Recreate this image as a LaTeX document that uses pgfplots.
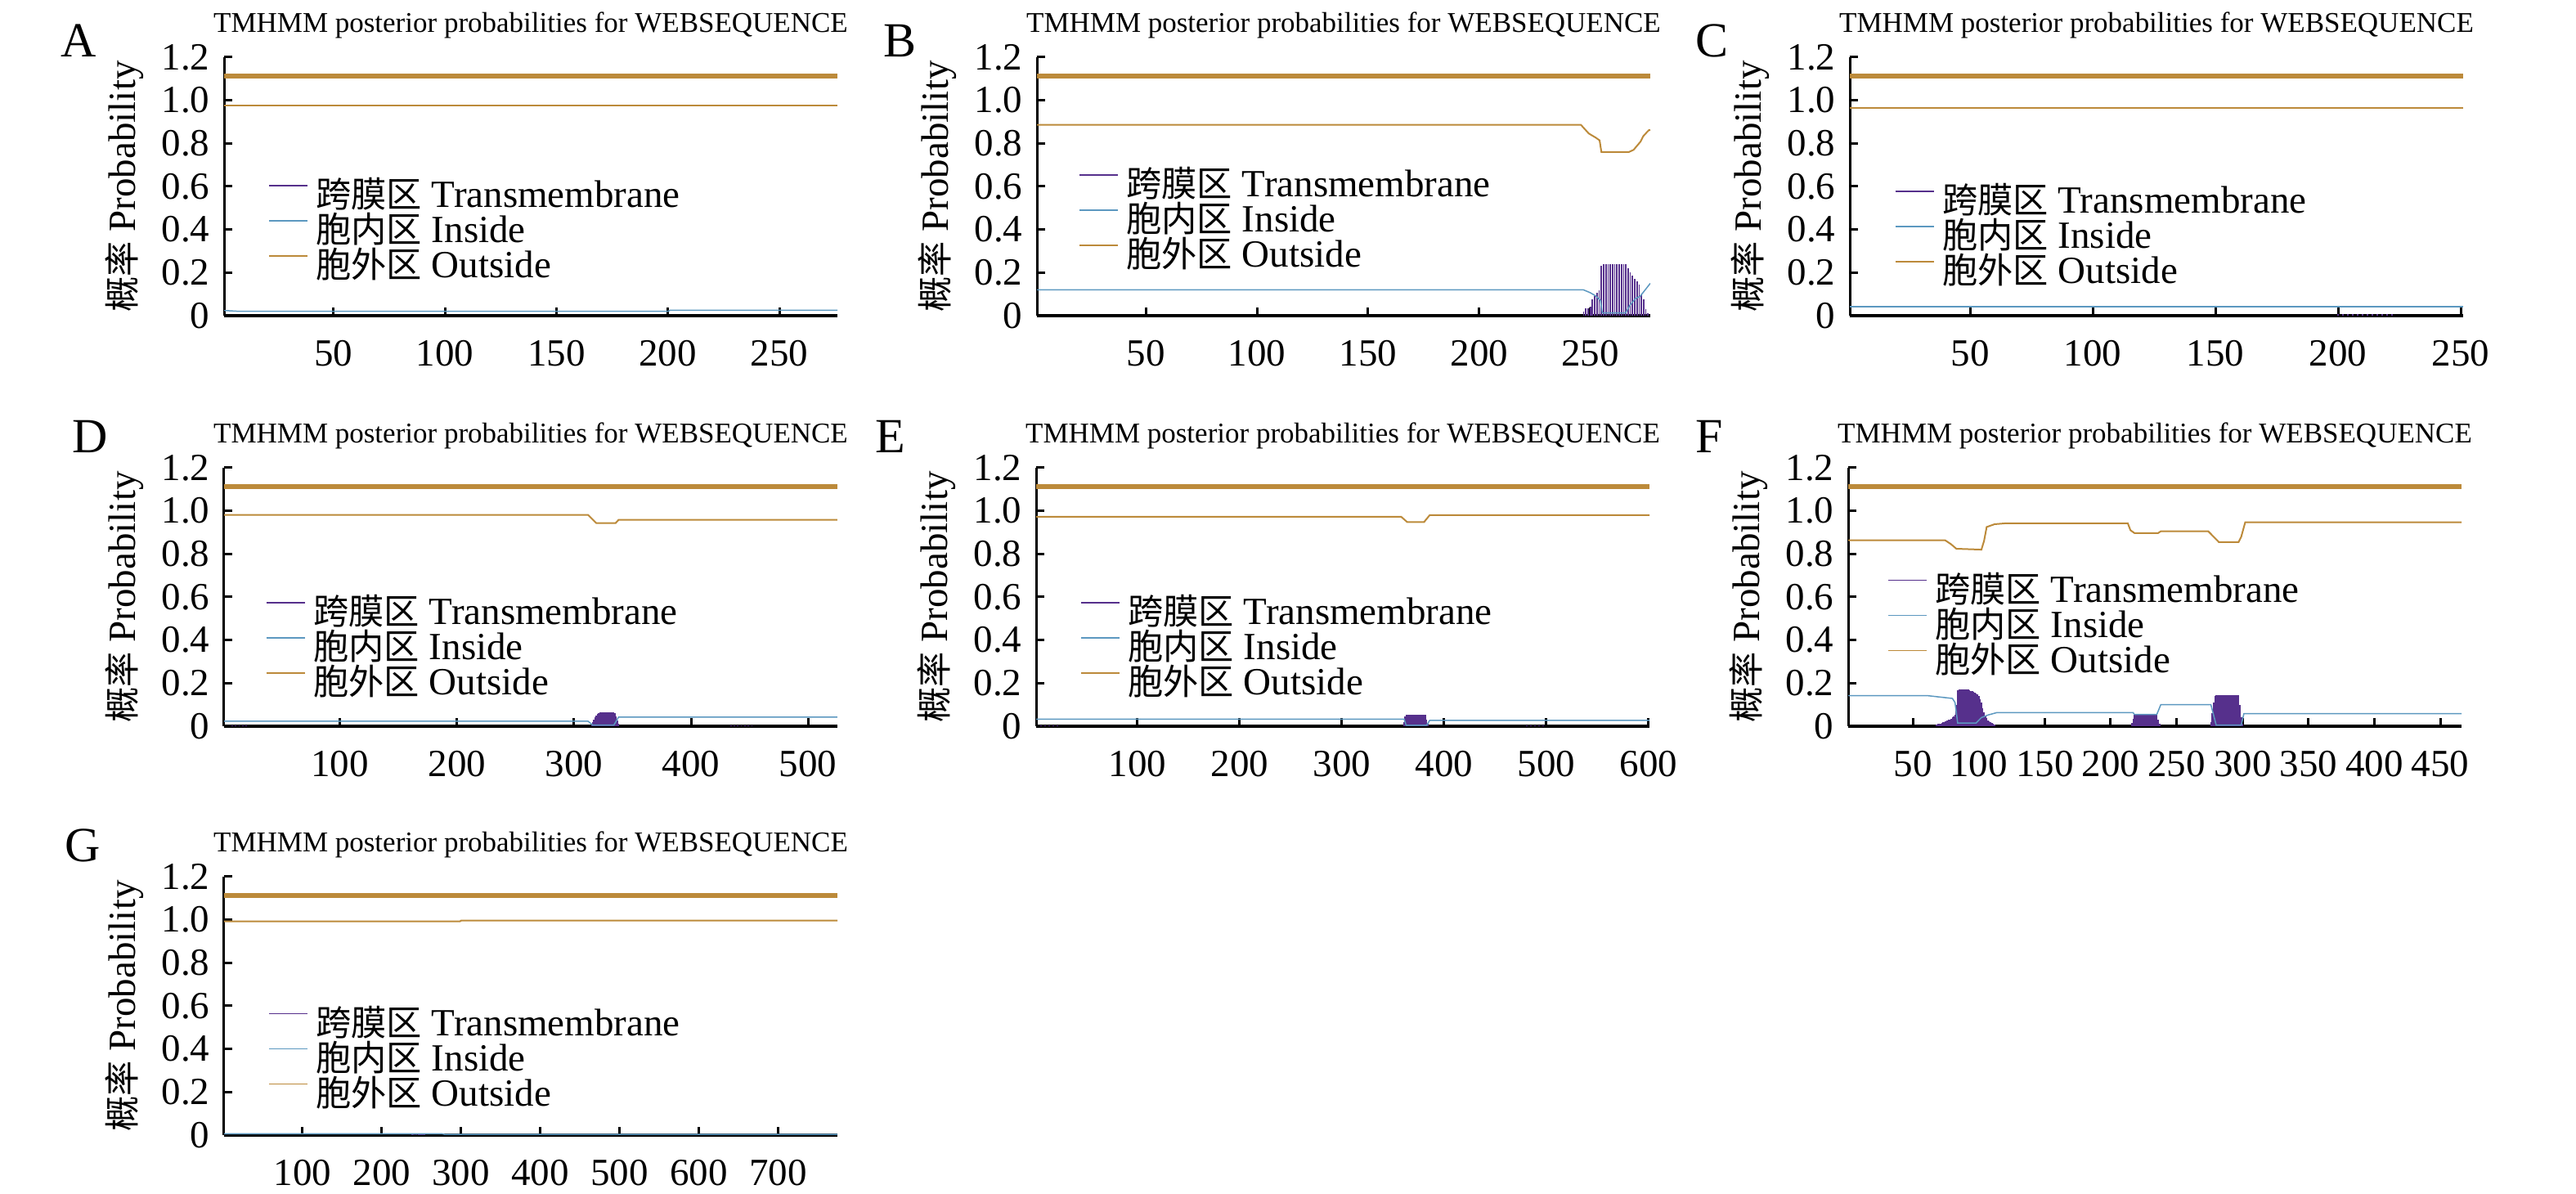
\documentclass[border=0pt]{standalone}
\usepackage{fontspec}
\setmainfont{Liberation Serif}
\newfontfamily\cjk[Scale=0.92]{Noto Sans CJK SC}
\usepackage{pgfplots}
\pgfplotsset{compat=1.18}
\definecolor{tmcol}{RGB}{86,48,140}
\definecolor{incol}{RGB}{92,152,192}
\definecolor{outcol}{RGB}{188,138,58}
\pgfplotsset{
  legend image code/.code={\draw[#1] (0pt,3pt) -- (9.4pt,3pt);},
  tm/.style={tmcol, ycomb, line width=0.35pt, forget plot},
  ins/.style={incol, line width=0.3pt, forget plot},
  outs/.style={outcol, line width=0.4pt, forget plot},
  topl/.style={outcol, line width=1.1pt, forget plot},
  panel/.style={
    scale only axis, width=150pt, height=63.2pt,
    xmin=1, ymin=0, ymax=1.2,
    axis x line*=bottom, axis y line*=left,
    x axis line style={-, line width=0.9pt},
    y axis line style={-, line width=0.6pt},
    tick align=inside, major tick length=2pt,
    every tick/.style={black, line width=0.6pt},
    ytick={0,0.2,0.4,0.6,0.8,1,1.2},
    yticklabels={0,0.2,0.4,0.6,0.8,1.0,1.2},
    /pgf/number format/assume math mode=true,
    tick label style={font=\fontsize{9.4}{10}\selectfont},
    xticklabel style={yshift=-2.5pt},
    title={TMHMM posterior probabilities for WEBSEQUENCE},
    every axis title/.style={at={(0.5,1)}, anchor=base, yshift=6pt, inner sep=0pt, font=\fontsize{7}{8}\selectfont},
    ylabel={{\cjk 概率} Probability},
    every axis y label/.style={at={(axis description cs:-0.1627,0.5)}, rotate=90, anchor=center, font=\fontsize{9.4}{10}\selectfont},
    legend cell align=left,
    legend style={draw=none, fill=none, inner sep=0pt, outer sep=0pt, anchor=west,
      font=\fontsize{9.4}{10}\selectfont,
      nodes={inner sep=0pt, text height=6.6pt, text depth=2pt},
      column sep=2pt, row sep=0pt},
  },
  letter/.style n args={3}{after end axis/.code={\node[anchor=base west, inner sep=0pt, font=\fontsize{12}{12}\selectfont] at (rel axis cs:#2,#3) {#1};}},
  legat/.style 2 args={legend style={at={(axis description cs:#1,#2)}}},
}
\newcommand{\legs}{%
  \addlegendimage{tmcol, line width=0.3pt}\addlegendentry{{\cjk 跨膜区} Transmembrane}
  \addlegendimage{incol, line width=0.3pt}\addlegendentry{{\cjk 胞内区} Inside}
  \addlegendimage{outcol, line width=0.3pt}\addlegendentry{{\cjk 胞外区} Outside}
}
\begin{document}
\begin{tikzpicture}
\useasboundingbox (0,0) rectangle (630pt,292pt);
% A
\begin{axis}[panel, at={(54.8pt,214.8pt)}, anchor=south west, xmax=276,
  xtick={50,100,150,200,250}, letter={A}{-0.267}{1}, legat={0.072}{0.32}]
\legs
\addplot[topl] coordinates {(1,1.112)(276,1.112)};
\addplot[outs, line width=0.5pt] coordinates {(1,0.976)(276,0.976)};
\addplot[ins] coordinates {(1,0.024)(8,0.020)(200,0.020)(201,0.025)(276,0.025)};
\end{axis}
% B
\begin{axis}[panel, at={(253.6pt,214.8pt)}, anchor=south west, xmax=277,
  xtick={50,100,150,200,250}, letter={B}{-0.251}{1}, legat={0.068}{0.361}]
\legs
\addplot[topl] coordinates {(1,1.112)(277,1.112)};
\addplot[tm] coordinates {(247,0.02)(248,0.035)(249,0.035)(250,0.04)(251,0.075)(252,0.09)(253,0.105)(254,0.118)(255,0.23)(256,0.238)(257,0.238)(258,0.238)(259,0.238)(260,0.238)(261,0.238)(262,0.238)(263,0.238)(264,0.238)(265,0.238)(266,0.238)(267,0.222)(268,0.2)(269,0.185)(270,0.17)(271,0.16)(272,0.143)(273,0.1)(274,0.075)(275,0.03)(276,0.01)};
\addplot[outs] coordinates {(1,0.886)(245.8,0.886)(249.3,0.846)(252.4,0.827)(254.2,0.814)(255.0,0.76)(267.4,0.76)(269.5,0.77)(272.6,0.808)(273.8,0.833)(276.3,0.861)(277,0.862)};
\addplot[ins] coordinates {(1,0.12)(246.9,0.12)(249.9,0.107)(252.4,0.092)(254.6,0.07)(255.4,0.013)(265.9,0.013)(267.9,0.05)(270.4,0.08)(272.4,0.09)(273.8,0.108)(277,0.15)};
\end{axis}
% C
\begin{axis}[panel, at={(452.4pt,214.8pt)}, anchor=south west, xmax=251,
  xtick={50,100,150,200,250}, letter={C}{-0.253}{1}, legat={0.073}{0.297}]
\legs
\addplot[topl] coordinates {(1,1.112)(251,1.112)};
\addplot[tm] coordinates {(200,0.008)(202,0.008)(204,0.008)(206,0.008)(208,0.008)(210,0.008)(212,0.008)(214,0.008)(216,0.008)(218,0.008)(220,0.008)(222,0.008)};
\addplot[outs, line width=0.5pt] coordinates {(1,0.964)(251,0.964)};
\addplot[ins] coordinates {(1,0.042)(251,0.042)};
\end{axis}
% D
\begin{axis}[panel, at={(54.8pt,114.4pt)}, anchor=south west, xmax=525,
  xtick={100,200,300,400,500}, letter={D}{-0.248}{1.057}, legat={0.068}{0.295}]
\legs
\addplot[topl] coordinates {(1,1.112)(525,1.112)};
\addplot[tm] coordinates {(8,0.004)(11,0.004)(14,0.004)(17,0.004)(20,0.004)(315,0.01)(316,0.02)(317,0.03)(318,0.04)(319,0.05)(320,0.056)(321,0.06)(322,0.064)(323,0.066)(324,0.066)(325,0.066)(326,0.066)(327,0.066)(328,0.066)(329,0.066)(330,0.066)(331,0.066)(332,0.066)(333,0.066)(334,0.066)(335,0.06)(336,0.045)(337,0.025)(338,0.01)(434,0.004)(437,0.004)(440,0.004)(443,0.004)(446,0.004)(449,0.004)(452,0.004)};
\addplot[outs] coordinates {(1,0.981)(312,0.981)(319,0.943)(335.5,0.943)(338,0.958)(525,0.958)};
\addplot[ins] coordinates {(1,0.023)(312,0.023)(316,0.005)(334,0.005)(338,0.042)(525,0.042)};
\end{axis}
% E
\begin{axis}[panel, at={(253.4pt,114.4pt)}, anchor=south west, xmax=601,
  xtick={100,200,300,400,500,600}, letter={E}{-0.263}{1.057}, legat={0.072}{0.295}]
\legs
\addplot[topl] coordinates {(1,1.112)(601,1.112)};
\addplot[tm] coordinates {(6,0.004)(10,0.004)(14,0.004)(18,0.004)(22,0.004)(361,0.02)(362,0.045)(363,0.054)(364,0.054)(365,0.054)(366,0.054)(367,0.054)(368,0.054)(369,0.054)(370,0.054)(371,0.054)(372,0.054)(373,0.054)(374,0.054)(375,0.054)(376,0.054)(377,0.054)(378,0.054)(379,0.054)(380,0.054)(381,0.054)(382,0.054)(383,0.03)(384,0.01)(481,0.004)(485,0.004)(489,0.004)(493,0.004)(497,0.004)};
\addplot[outs] coordinates {(1,0.973)(358,0.973)(364,0.948)(380.5,0.948)(386,0.98)(601,0.98)};
\addplot[ins] coordinates {(1,0.033)(361,0.033)(363,0.004)(383,0.004)(386,0.027)(601,0.027)};
\end{axis}
% F
\begin{axis}[panel, at={(452pt,114.4pt)}, anchor=south west, xmax=466,
  xtick={50,100,150,200,250,300,350,400,450}, letter={F}{-0.25}{1.057}, legat={0.064}{0.381}]
\legs
\addplot[topl] coordinates {(1,1.112)(466,1.112)};
\addplot[tm] coordinates {(68,0.008)(69,0.01)(70,0.01)(71,0.012)(72,0.015)(73,0.018)(74,0.02)(75,0.022)(76,0.025)(77,0.03)(78,0.032)(79,0.035)(80,0.04)(81,0.045)(82,0.053)(83,0.1)(84,0.168)(85,0.17)(86,0.171)(87,0.171)(88,0.171)(89,0.171)(90,0.171)(91,0.17)(92,0.17)(93,0.168)(94,0.165)(95,0.163)(96,0.16)(97,0.157)(98,0.152)(99,0.147)(100,0.14)(101,0.125)(102,0.11)(103,0.085)(104,0.066)(105,0.05)(106,0.038)(107,0.028)(108,0.022)(109,0.018)(110,0.015)(111,0.01)(112,0.006)
(216,0.015)(217,0.035)(218,0.052)(219,0.052)(220,0.052)(221,0.052)(222,0.052)(223,0.052)(224,0.052)(225,0.052)(226,0.052)(227,0.052)(228,0.052)(229,0.052)(230,0.052)(231,0.052)(232,0.052)(233,0.052)(234,0.052)(235,0.052)(236,0.03)(237,0.01)
(276,0.02)(277,0.06)(278,0.11)(279,0.14)(280,0.146)(281,0.146)(282,0.146)(283,0.146)(284,0.146)(285,0.146)(286,0.146)(287,0.146)(288,0.146)(289,0.146)(290,0.146)(291,0.146)(292,0.146)(293,0.146)(294,0.146)(295,0.146)(296,0.146)(297,0.146)(298,0.1)(299,0.04)(300,0.01)};
\addplot[outs] coordinates {(1,0.863)(74.6,0.863)(79,0.845)(83,0.824)(102,0.82)(104,0.86)(106,0.925)(112,0.938)(120,0.942)(213,0.942)(215,0.91)(218,0.897)(236,0.897)(238,0.905)(274,0.905)(278,0.88)(282,0.855)(297,0.855)(299,0.88)(302,0.947)(466,0.947)};
\addplot[ins] coordinates {(1,0.142)(61,0.142)(80,0.129)(82,0.11)(84,0.015)(98,0.015)(102,0.04)(107,0.052)(113.6,0.063)(217,0.063)(218,0.055)(235,0.055)(238,0.1)(276,0.1)(280,0.005)(299,0.005)(301,0.058)(466,0.058)};
\end{axis}
% G
\begin{axis}[panel, at={(54.8pt,14.4pt)}, anchor=south west, xmax=775,
  xtick={100,200,300,400,500,600,700}, letter={G}{-0.261}{1.057}, legat={0.072}{0.286}]
\legs
\addplot[topl] coordinates {(1,1.112)(775,1.112)};
\addplot[tm] coordinates {(238,0.004)(240,0.004)(242,0.004)(244,0.004)(246,0.004)(248,0.004)(250,0.004)(252,0.004)(254,0.004)(280,0.004)(282,0.004)(284,0.004)(286,0.004)(288,0.004)(290,0.004)(292,0.004)(294,0.004)(296,0.004)};
\addplot[outs] coordinates {(1,0.993)(299,0.993)(300,0.996)(775,0.996)};
\addplot[ins] coordinates {(1,0.006)(276,0.006)(280,0.003)(775,0.003)};
\end{axis}
\end{tikzpicture}
\end{document}
